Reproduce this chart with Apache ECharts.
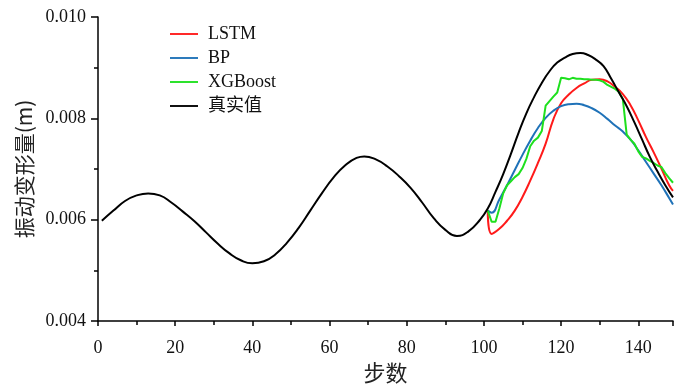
<!DOCTYPE html>
<html><head><meta charset="utf-8">
<script src="https://cdn.jsdelivr.net/npm/echarts@6/dist/echarts.min.js"></script>
<style>html,body{margin:0;padding:0;background:#fff}#c{width:676px;height:389px}</style>
</head><body><div id="c"></div>
<script>
const seriesNames = ['LSTM', 'BP', 'XGBoost', '真实值'];
const yTickLabels = ['0.004', '0.006', '0.008', '0.010'];
const xTickLabels = ['0', '20', '40', '60', '80', '100', '120', '140'];

const trueSteps = [1,4,7,10,13,16,19,22,25,28,31,34,37,40,43,46,49,52,55,58,61,64,67,69,72,75,78,81,84,87,90,93,96,99,101,103,105,107,109,111,113,115,117,119,121,123,125,127,129,131,133,135,137,139,141,143,145,147,149];
const trueVals = [0.00598,0.00618,0.00637,0.00648,0.00652,0.00648,0.00634,0.00616,0.00597,0.00575,0.00553,0.00534,0.00520,0.00514,0.00518,0.00532,0.00555,0.00584,0.00618,0.00652,0.00683,0.00707,0.00722,0.00725,0.00719,0.00705,0.00686,0.00663,0.00634,0.00603,0.00580,0.00568,0.00577,0.00600,0.00622,0.00655,0.00690,0.00730,0.00772,0.00810,0.00842,0.00870,0.00893,0.00910,0.00920,0.00927,0.00929,0.00925,0.00916,0.00903,0.00878,0.00851,0.00824,0.00792,0.00758,0.00724,0.00695,0.00668,0.00644];

const lstmSteps = [101,102,104,106,108,110,112,114,116,118,120,122,124,126,128,130,132,134,136,138,140,142,144,146,148,149];
const lstmVals = [0.00618,0.00572,0.00582,0.00598,0.00618,0.00645,0.00677,0.00712,0.00750,0.00798,0.00830,0.00847,0.00860,0.00869,0.00876,0.00877,0.00873,0.00862,0.00848,0.00826,0.00796,0.00763,0.00733,0.00701,0.00668,0.00657];

const bpSteps = [101,102,104,106,108,110,112,114,116,118,120,122,124,126,128,130,132,134,136,138,140,142,144,146,148,149];
const bpVals = [0.00618,0.00614,0.00640,0.00668,0.00698,0.00728,0.00756,0.00781,0.00801,0.00815,0.00824,0.00828,0.00829,0.00826,0.00820,0.00811,0.00799,0.00786,0.00774,0.00758,0.00737,0.00714,0.00691,0.00668,0.00643,0.00630];

const xgbSteps = [101,102,103,104,105,106,107,108,109,110,111,112,113,114,115,116,117,118,119,120,121,122,123,124,125,126,127,128,129,130,131,132,133,134,135,136,137,138,139,140,141,142,143,144,145,146,147,148,149];
const xgbVals = [0.00618,0.00596,0.00596,0.00622,0.00652,0.00668,0.00676,0.00684,0.00690,0.00702,0.00720,0.00745,0.00756,0.00762,0.00775,0.00825,0.00834,0.00843,0.00851,0.00880,0.00879,0.00877,0.00880,0.00878,0.00878,0.00877,0.00877,0.00876,0.00876,0.00875,0.00872,0.00866,0.00862,0.00858,0.00852,0.00838,0.00768,0.00758,0.00750,0.00735,0.00724,0.00721,0.00716,0.00712,0.00707,0.00704,0.00692,0.00682,0.00673];

const colors = ['#ff1a1a', '#1f72b8', '#1ee01e', '#000000'];
const pair = (xs, ys) => xs.map((x, i) => [x, ys[i]]);
const stepsList = [lstmSteps, bpSteps, xgbSteps, trueSteps];
const valsList = [lstmVals, bpVals, xgbVals, trueVals];
const smoothList = [0.5, 0.5, false, 0.5];

const numFont = 'Liberation Serif';
const cjkFont = 'Noto Sans CJK SC';

const chart = echarts.init(document.getElementById('c'), null, {renderer: 'canvas'});
chart.setOption({
  animation: false,
  backgroundColor: '#fff',
  grid: {left: 98, right: 0, top: 17, bottom: 64, containLabel: false},
  legend: {
    orient: 'vertical', left: 165, top: 20,
    icon: 'path://M0 0H30V2H0Z',
    itemWidth: 28, itemHeight: 2, itemGap: 6,
    data: seriesNames,
    textStyle: {fontFamily: numFont + ',' + cjkFont, fontSize: 18, lineHeight: 18, color: '#111', padding: [0,0,0,5]}
  },
  xAxis: {
    type: 'value', min: 0, max: 149, interval: 20,
    name: '步数', nameLocation: 'middle', nameGap: 40,
    nameTextStyle: {fontFamily: cjkFont, fontSize: 22, color: '#222'},
    axisLine: {show: true, onZero: false, lineStyle: {color: '#000', width: 1.5}},
    axisTick: {show: true, inside: false, length: 5, lineStyle: {color: '#000', width: 1.5}},
    minorTick: {show: true, splitNumber: 2, length: 4, lineStyle: {color: '#000', width: 1.5}},
    splitLine: {show: false},
    axisLabel: {margin: 18, fontFamily: numFont, fontSize: 18, color: '#111',
      formatter: v => xTickLabels.includes(String(v)) ? String(v) : ''}
  },
  yAxis: {
    type: 'value', min: 0.004, max: 0.010, interval: 0.002,
    name: '振动变形量(m)', nameLocation: 'middle', nameGap: 55, nameRotate: 90,
    nameTextStyle: {fontFamily: cjkFont, fontSize: 21, color: '#222'},
    axisLine: {show: true, onZero: false, lineStyle: {color: '#000', width: 1.5}},
    axisTick: {show: true, inside: false, length: 7, lineStyle: {color: '#000', width: 1.5}},
    minorTick: {show: true, splitNumber: 2, length: 4, lineStyle: {color: '#000', width: 1.5}},
    splitLine: {show: false},
    axisLabel: {margin: 12, fontFamily: numFont, fontSize: 18, color: '#111',
      formatter: v => { const s = v.toFixed(3); return yTickLabels.includes(s) ? s : ''; }}
  },
  series: seriesNames.map((n, i) => ({
    name: n, type: 'line', data: pair(stepsList[i], valsList[i]),
    smooth: smoothList[i], symbol: 'none', showSymbol: false,
    color: colors[i],
    lineStyle: {color: colors[i], width: 2},
    z: i === 3 ? 5 : 3
  }))
});
</script>
</body></html>
